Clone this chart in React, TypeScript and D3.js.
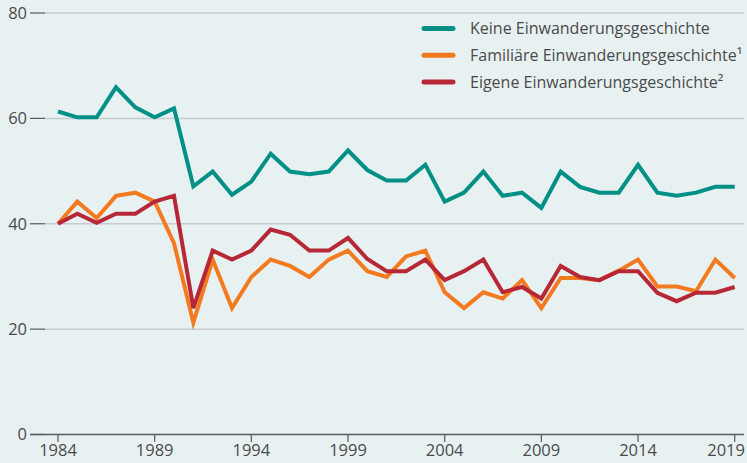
import React from "react";
import * as d3 from "d3";

const years: number[] = [
  1984, 1985, 1986, 1987, 1988, 1989, 1990, 1991, 1992, 1993, 1994, 1995,
  1996, 1997, 1998, 1999, 2000, 2001, 2002, 2003, 2004, 2005, 2006, 2007,
  2008, 2009, 2010, 2011, 2012, 2013, 2014, 2015, 2016, 2017, 2018, 2019,
];

const keine: number[] = [
  61.3, 60.2, 60.2, 65.9, 62.1, 60.2, 61.9, 47.1, 49.9, 45.5, 48.0, 53.3,
  49.9, 49.4, 49.9, 53.9, 50.2, 48.2, 48.2, 51.2, 44.2, 45.9, 49.9, 45.3,
  45.9, 43.0, 49.9, 47.0, 45.9, 45.9, 51.2, 45.9, 45.3, 45.9, 47.0, 47.0,
];

const familiaere: number[] = [
  40.0, 44.2, 41.1, 45.3, 45.9, 44.2, 36.3, 21.2, 33.2, 24.0, 29.9, 33.2,
  32.0, 29.9, 33.2, 34.9, 31.0, 29.9, 33.8, 34.9, 27.0, 24.0, 27.0, 25.8,
  29.3, 24.0, 29.7, 29.7, 29.3, 31.1, 33.2, 28.1, 28.1, 27.2, 33.2, 29.7,
];

const eigene: number[] = [
  40.0, 41.9, 40.2, 41.9, 41.9, 44.2, 45.3, 24.0, 34.9, 33.2, 34.9, 38.9,
  37.9, 34.9, 34.9, 37.3, 33.3, 31.0, 31.0, 33.2, 29.3, 31.0, 33.2, 27.0,
  28.0, 25.8, 32.0, 29.9, 29.3, 31.0, 31.0, 26.9, 25.3, 26.9, 26.9, 28.0,
];

const yTicks: number[] = [0, 20, 40, 60, 80];
const xTickYears: number[] = [1984, 1989, 1994, 1999, 2004, 2009, 2014, 2019];

const seriesNames: string[] = [
  "Keine Einwanderungsgeschichte",
  "Familiäre Einwanderungsgeschichte¹",
  "Eigene Einwanderungsgeschichte²",
];
const seriesColors: string[] = ["#009086", "#f47a20", "#b72837"];

const W = 747;
const H = 463;

export default function App() {
  const x = d3.scaleLinear().domain([1984, 2019]).range([58, 734.7]);
  const y = d3.scaleLinear().domain([0, 80]).range([434.5, 13]);
  const seriesData = [keine, familiaere, eigene];
  const line = d3
    .line<number>()
    .x((_, i) => x(years[i]))
    .y((d) => y(d));
  const font = "'Open Sans', 'Noto Sans', sans-serif";
  const textColor = "#4a4a4a";
  const lastYear = xTickYears[xTickYears.length - 1];

  return (
    <div style={{ position: "absolute", left: 0, top: 0 }}>
      <svg width={W} height={H} style={{ display: "block" }}>
        <rect x={0} y={0} width={W} height={H} fill="#e8f1f2" />
        {yTicks.map((t) => (
          <g key={t}>
            {t !== 0 && (
              <line x1={45} x2={744} y1={y(t)} y2={y(t)} stroke="#c5cbce" strokeWidth={1.5} />
            )}
            <line x1={30} x2={45} y1={y(t)} y2={y(t)} stroke="#5a5a5a" strokeWidth={1.2} />
            <text
              x={27}
              y={y(t)}
              dy="0.36em"
              textAnchor="end"
              fontFamily={font}
              fontSize={16.5}
              fill={textColor}
            >
              {t}
            </text>
          </g>
        ))}
        <line x1={30} x2={744} y1={y(0)} y2={y(0)} stroke="#5a5a5a" strokeWidth={1.5} />
        {xTickYears.map((yr) => (
          <g key={yr}>
            <line x1={x(yr)} x2={x(yr)} y1={y(0)} y2={y(0) + 7.5} stroke="#5a5a5a" strokeWidth={1.2} />
            <text
              x={yr === lastYear ? 745 : x(yr)}
              y={456}
              textAnchor={yr === lastYear ? "end" : "middle"}
              fontFamily={font}
              fontSize={16.5}
              fill={textColor}
            >
              {yr}
            </text>
          </g>
        ))}
        {seriesData.map((s, k) => (
          <path
            key={k}
            d={line(s) || ""}
            fill="none"
            stroke={seriesColors[k]}
            strokeWidth={4}
            strokeLinejoin="miter"
            strokeLinecap="butt"
          />
        ))}
        {seriesNames.map((n, k) => (
          <g key={n} transform={`translate(0, ${28.5 + k * 26.7})`}>
            <line x1={424} x2={453} y1={0} y2={0} stroke={seriesColors[k]} strokeWidth={5} strokeLinecap="round" />
            <text x={470} y={0} dy="0.35em" fontFamily={font} fontSize={16} fill={textColor}>
              {n}
            </text>
          </g>
        ))}
      </svg>
    </div>
  );
}
